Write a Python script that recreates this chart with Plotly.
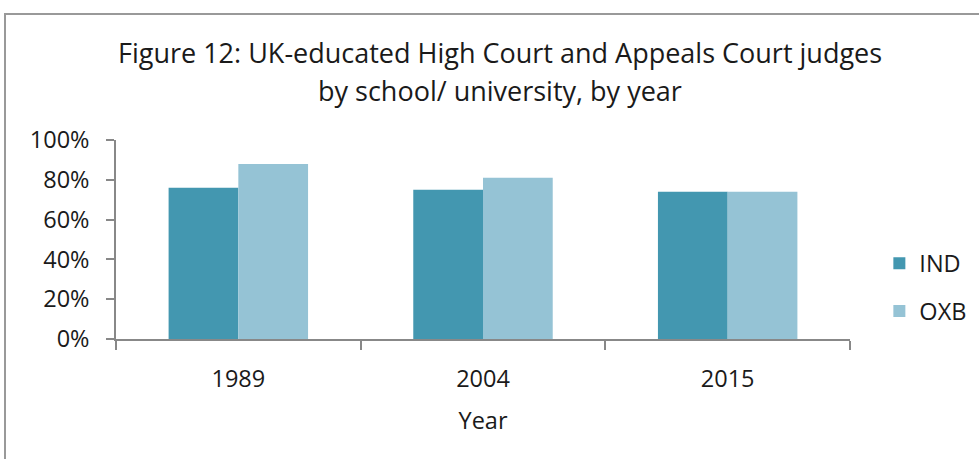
import plotly.graph_objects as go

years = ["1989", "2004", "2015"]
ind = [0.76, 0.75, 0.74]
oxb = [0.88, 0.81, 0.74]
title_lines = ["Figure 12: UK-educated High Court and Appeals Court judges",
               "by school/ university, by year"]
y_ticks = [0, 0.2, 0.4, 0.6, 0.8, 1.0]
y_tick_labels = ["0%", "20%", "40%", "60%", "80%", "100%"]

FONT = "Open Sans"
TXT = "#1a1a1a"
FS = 23.5

fig = go.Figure()
fig.add_trace(go.Bar(x=years, y=ind, name="IND", marker=dict(color="#4397b0", line=dict(width=0)),
                     legend="legend", showlegend=True))
fig.add_trace(go.Bar(x=years, y=oxb, name="OXB", marker=dict(color="#95c3d5", line=dict(width=0)),
                     legend="legend2", showlegend=True))

fig.update_layout(
    width=979, height=459,
    margin=dict(l=116, r=129, t=140, b=120, autoexpand=False),
    paper_bgcolor="white", plot_bgcolor="white",
    font=dict(family=FONT, size=FS, color=TXT),
    barmode="group", bargap=0.43, bargroupgap=0,
    showlegend=True,
    legend=dict(x=1.040, y=0.38, xanchor="left", yanchor="middle",
                font=dict(size=FS, family=FONT, color=TXT), bgcolor="rgba(0,0,0,0)"),
    legend2=dict(x=1.040, y=0.14, xanchor="left", yanchor="middle",
                 font=dict(size=FS, family=FONT, color=TXT), bgcolor="rgba(0,0,0,0)"),
)

fig.update_xaxes(
    automargin=False,
    showline=True, linecolor="#888888", linewidth=1.5,
    ticks="outside", tickson="boundaries", ticklen=9, tickcolor="#888888", tickwidth=1.5,
    tickfont=dict(size=FS, family=FONT, color=TXT),
    ticklabelstandoff=18,
    title=dict(text="Year", font=dict(size=FS, family=FONT, color=TXT), standoff=20),
    showgrid=False,
)
fig.update_yaxes(
    automargin=False,
    range=[0, 1.0], tickvals=y_ticks, ticktext=y_tick_labels,
    showline=True, linecolor="#888888", linewidth=1.5,
    ticks="outside", ticklen=8, tickcolor="#888888", tickwidth=1.5,
    tickfont=dict(size=FS, family=FONT, color=TXT),
    ticklabelstandoff=12,
    showgrid=False, zeroline=False,
)

cx = (500 - 116) / 734
fig.add_annotation(text=title_lines[0], xref="paper", yref="paper",
                   x=cx, y=(339 - 52) / 199, showarrow=False,
                   xanchor="center", yanchor="middle", font=dict(size=27, family=FONT, color=TXT))
fig.add_annotation(text=title_lines[1], xref="paper", yref="paper",
                   x=cx, y=(339 - 90) / 199, showarrow=False,
                   xanchor="center", yanchor="middle", font=dict(size=27, family=FONT, color=TXT))

# outer frame (partially cut off at right and bottom)
fig.add_shape(type="rect", xref="paper", yref="paper",
              x0=(5 - 116) / 734, x1=(1100 - 116) / 734,
              y0=(339 - 600) / 199, y1=(339 - 14) / 199,
              line=dict(color="#999999", width=2), fillcolor="rgba(0,0,0,0)", layer="above")

fig.write_html("out.html", config={"displayModeBar": False},
               post_script="document.body.style.margin='0';document.body.style.overflow='hidden';")
